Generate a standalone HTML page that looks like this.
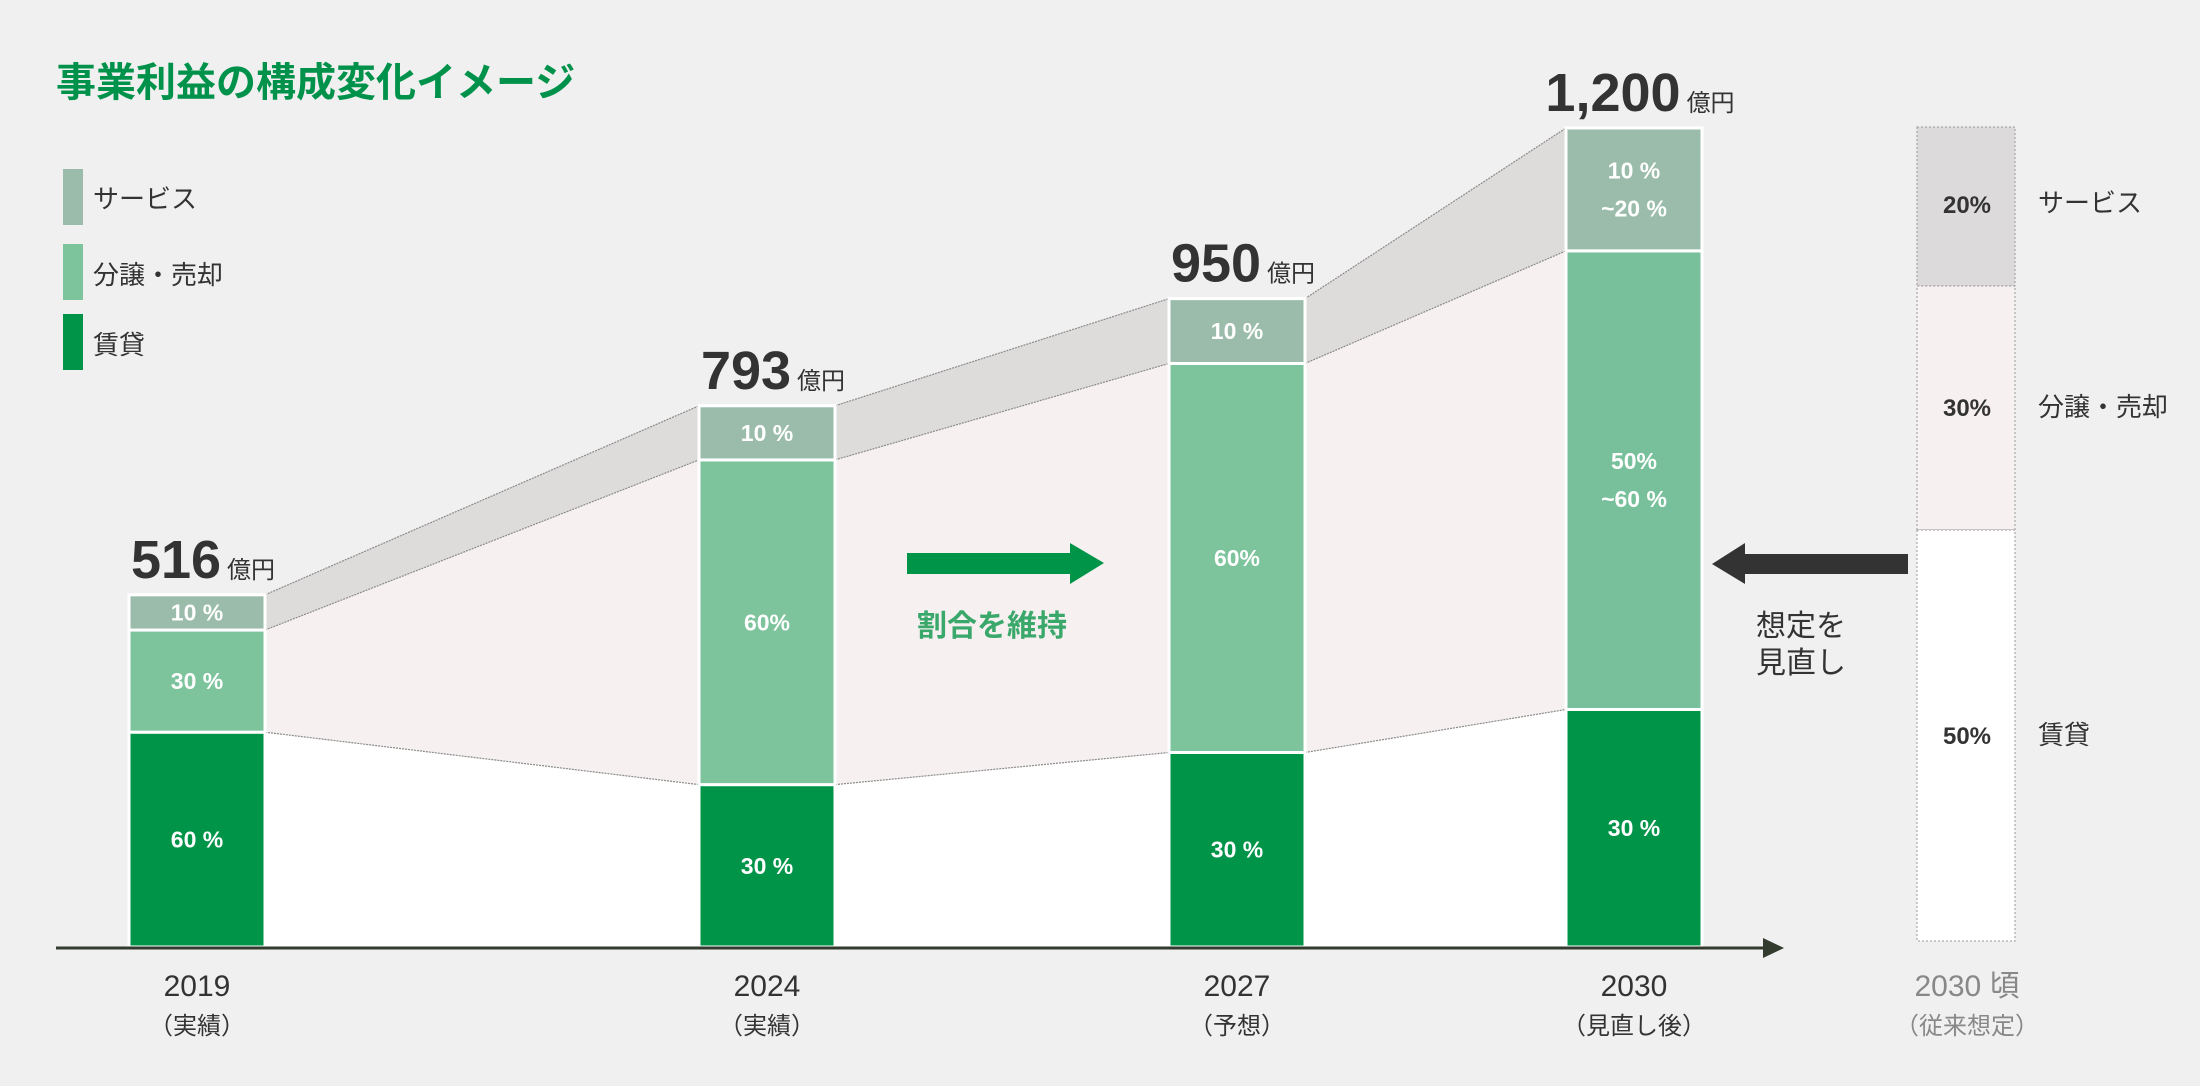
<!DOCTYPE html>
<html><head><meta charset="utf-8"><style>
html,body{margin:0;padding:0;background:#f0f0f0;}
svg{display:block;font-family:"Liberation Sans","Noto Sans CJK JP",sans-serif;}
</style></head><body>
<svg id="chart" width="2200" height="1086" viewBox="0 0 2200 1086">
<rect width="2200" height="1086" fill="#f0f0f0"/>
<text x="56" y="96" font-size="40" font-weight="bold" fill="#00924a" font-family="'Noto Sans CJK JP',sans-serif">事業利益の構成変化イメージ</text>
<g>
<rect x="63" y="169" width="20" height="56" fill="#9bbcaa"/>
<text x="93" y="208" font-size="26" fill="#333">サービス</text>
<rect x="63" y="244" width="20" height="56" fill="#7dc49d"/>
<text x="93" y="284" font-size="26" fill="#333">分譲・売却</text>
<rect x="63" y="314" width="20" height="56" fill="#009448"/>
<text x="93" y="354" font-size="26" fill="#333">賃貸</text>
</g>
<g id="bands"></g>
<g id="bars"></g>
<g id="labels"></g>
<line x1="56" y1="948" x2="1768" y2="948" stroke="#333a2e" stroke-width="3"/>
<polygon points="1763,938 1784,948 1763,958" fill="#333a2e"/>
<g>
<polygon points="907,553 1070,553 1070,543 1104,563 1070,584 1070,574 907,574" fill="#009448"/>
<text x="992" y="636" font-size="30" fill="#3aa86b" text-anchor="middle" font-weight="bold">割合を維持</text>
</g>
<g>
<polygon points="1908,554 1745,554 1745,543 1712,564 1745,584 1745,574 1908,574" fill="#333"/>
<text x="1756" y="636" font-size="30" fill="#333">想定を</text>
<text x="1756" y="673" font-size="30" fill="#333">見直し</text>
</g>
<g>
<rect x="1917" y="127" width="98" height="159" fill="#dcdada" stroke="#999" stroke-width="1" stroke-dasharray="2,2"/>
<rect x="1917" y="286" width="98" height="244" fill="#f6f1f0" stroke="#999" stroke-width="1" stroke-dasharray="2,2"/>
<rect x="1917" y="530" width="98" height="411" fill="#ffffff" stroke="#999" stroke-width="1" stroke-dasharray="2,2"/>
<text x="1967" y="213" font-size="24" font-weight="bold" fill="#333" text-anchor="middle">20%</text>
<text x="1967" y="416" font-size="24" font-weight="bold" fill="#333" text-anchor="middle">30%</text>
<text x="1967" y="744" font-size="24" font-weight="bold" fill="#333" text-anchor="middle">50%</text>
<text x="2038" y="212" font-size="26" fill="#333">サービス</text>
<text x="2038" y="416" font-size="26" fill="#333">分譲・売却</text>
<text x="2038" y="744" font-size="26" fill="#333">賃貸</text>
<text x="1967" y="996" font-size="30" fill="#888" text-anchor="middle">2030 頃</text>
<text x="1967" y="1034" font-size="24" fill="#888" text-anchor="middle">（従来想定）</text>
</g>
</svg>
<script>
const years = ["2019","2024","2027","2030"];
const yearNotes = ["（実績）","（実績）","（予想）","（見直し後）"];
const totals = [516, 793, 950, 1200];
const totalLabels = ["516","793","950","1,200"];
const rentalShare = [61, 30, 30, 29];
const salesShare = [29, 60, 60, 56];
const serviceShare = [10, 10, 10, 15];
const rentalLabels = [["60 %"],["30 %"],["30 %"],["30 %"]];
const salesLabels = [["30 %"],["60%"],["60%"],["50%","~60 %"]];
const serviceLabels = [["10 %"],["10 %"],["10 %"],["10 %","~20 %"]];
const barLefts = [129, 699, 1169, 1566];
const barW = 136, base = 947, k = 0.6825;
const y = v => base - v*k;
const NS = "http://www.w3.org/2000/svg";
function mk(tag, attrs, parent){const e=document.createElementNS(NS,tag);for(const a in attrs)e.setAttribute(a,attrs[a]);parent.appendChild(e);return e;}
const bandsG=document.getElementById('bands'), barsG=document.getElementById('bars'), labG=document.getElementById('labels');
const geo = totals.map((t,i)=>{const r=t*rentalShare[i]/100, s=t*salesShare[i]/100;return {b0:base,b1:y(r),b2:y(r+s),top:y(t)};});
for(let i=0;i<years.length-1;i++){
  const xr=barLefts[i]+barW, xl=barLefts[i+1], a=geo[i], b=geo[i+1];
  const p1=mk('polygon',{points:`${xr},${a.top} ${xl},${b.top} ${xl},${b.b2} ${xr},${a.b2}`,fill:'#dedbdb'},bandsG);
  
  
  const p2=mk('polygon',{points:`${xr},${a.b2} ${xl},${b.b2} ${xl},${b.b1} ${xr},${a.b1}`,fill:'#f6f1f0'},bandsG);
  
  
  const p3=mk('polygon',{points:`${xr},${a.b1} ${xl},${b.b1} ${xl},${base} ${xr},${base}`,fill:'#ffffff'},bandsG);
  
  
  [[a.top,b.top],[a.b2,b.b2],[a.b1,b.b1]].forEach(([y1,y2])=>{
    const l=mk('line',{x1:xr,y1:y1,x2:xl,y2:y2,stroke:'#8a8a8a','stroke-width':1.2,'stroke-dasharray':'2,1'},bandsG);
    
    
  });
}
years.forEach((yr,i)=>{
  const g=geo[i], x=barLefts[i], cx=x+barW/2;
  const segs=[[g.b1,g.b0,'#009448',rentalLabels[i],'rental'],[g.b2,g.b1,(i==3?'#77c09b':'#7dc49d'),salesLabels[i],'sales'],[g.top,g.b2,'#9bbcaa',serviceLabels[i],'service']];
  segs.forEach(([t,b,c,lbls,nm])=>{
    const r=mk('rect',{x:x,y:t,width:barW,height:b-t,fill:c,stroke:'#ffffff','stroke-width':3},barsG);
    
    
    const mid=(t+b)/2, n=lbls.length;
    lbls.forEach((s,j)=>{
      const ty=mid+(j-(n-1)/2)*38+8;
      const tx=mk('text',{x:cx,y:ty,'font-size':23,'font-weight':'bold',fill:'#fff','text-anchor':'middle'},labG);
      tx.textContent=s;
      
      
    });
  });
  const tt=mk('text',{x:cx+6,y:g.top-17,'text-anchor':'middle',fill:'#333'},labG);
  
  
  const t1=mk('tspan',{'font-size':54,'font-weight':'bold'},tt); t1.textContent=totalLabels[i];
  const t2=mk('tspan',{'font-size':24,dx:6},tt); t2.textContent='億円';
  const yl=mk('text',{x:cx,y:996,'font-size':30,fill:'#333','text-anchor':'middle'},labG);
  yl.textContent=yr;
  
  
  const yn=mk('text',{x:cx,y:1034,'font-size':24,fill:'#333','text-anchor':'middle'},labG);
  yn.textContent=yearNotes[i];
  
  
});
</script>
</body></html>
